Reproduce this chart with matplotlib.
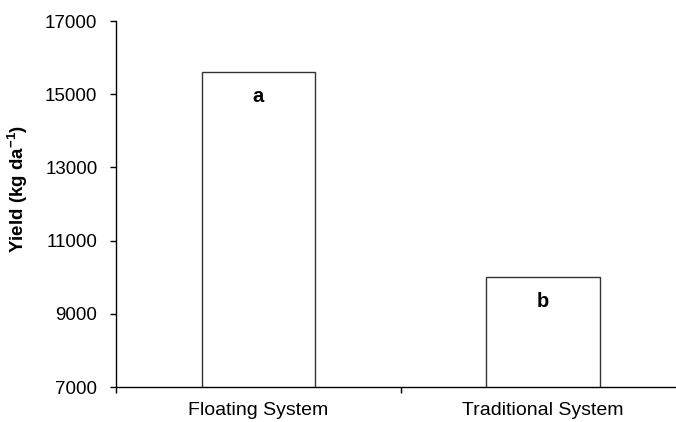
import matplotlib
matplotlib.use("Agg")
import matplotlib.pyplot as plt

# Data
systems = ["Floating System", "Traditional System"]
yields = [15600, 10000]
letters = ["a", "b"]
y_ticks = [7000, 9000, 11000, 13000, 15000, 17000]

plt.rcParams["font.family"] = ["Liberation Sans", "DejaVu Sans"]
plt.rcParams["mathtext.fontset"] = "custom"
plt.rcParams["mathtext.rm"] = "Liberation Sans"
plt.rcParams["mathtext.bf"] = "Liberation Sans:bold"

fig = plt.figure(figsize=(6.76, 4.22), dpi=100)
# axis runs a bit past the right edge of the picture, like the original
ax = fig.add_axes([0.1719, 0.0829, 0.8417, 0.8673])

pos = list(range(len(systems)))
ax.bar(pos, yields, width=0.4, bottom=0, color="white",
       edgecolor="#333333", linewidth=1.0, zorder=2)

# significance letters inside the bars
for x, val, lab in zip(pos, yields, letters):
    ax.annotate(lab, xy=(x, val), xytext=(0, -21.6), textcoords="offset points",
                ha="center", va="baseline", fontsize=14.5, fontweight="bold")

ax.set_xlim(-0.5, 1.5)
ax.set_ylim(7000, 17000)
ax.set_yticks(y_ticks)
ax.set_yticklabels([str(t) for t in y_ticks])

# tick marks between the categories, labels at the centres
ax.set_xticks([-0.5, 0.5, 1.5])
ax.set_xticklabels([])
ax.set_xticks(pos, minor=True)
ax.set_xticklabels(systems, minor=True)
ax.tick_params(axis="x", which="major", direction="out", length=4.5, width=1)
ax.tick_params(axis="x", which="minor", length=0, pad=11, labelsize=14)
ax.tick_params(axis="y", direction="out", length=4.5, width=1, pad=9, labelsize=13.5)

ax.spines["top"].set_visible(False)
ax.spines["right"].set_visible(False)
ax.spines["left"].set_linewidth(1)
ax.spines["bottom"].set_linewidth(1)

ax.set_ylabel(r"Yield (kg da$^{\mathbf{-1}}$)", fontsize=13.5, fontweight="bold")
ax.yaxis.set_label_coords(-0.151, 0.54)

fig.savefig("out.png", dpi=100, facecolor="white")
